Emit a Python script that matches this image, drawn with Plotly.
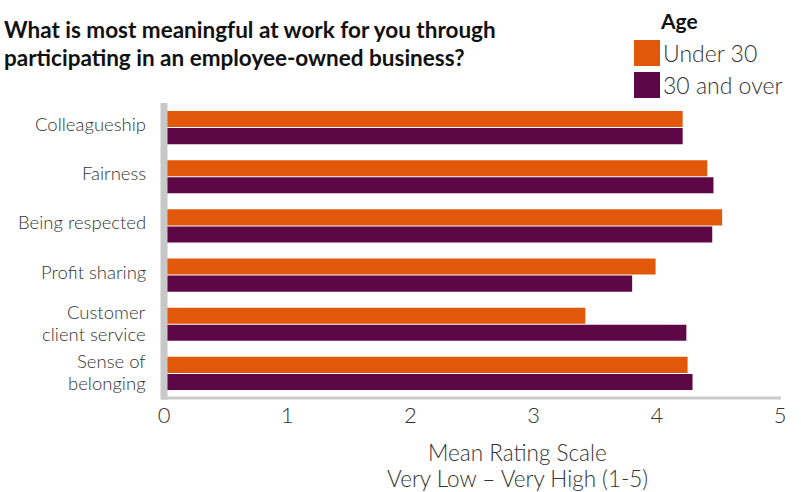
import plotly.graph_objects as go

categories = ["Colleagueship", "Fairness", "Being respected", "Profit sharing",
              "Customer<br>client service", "Sense of<br>belonging"]
under_30 = [4.21, 4.41, 4.53, 3.99, 3.42, 4.25]
over_30 = [4.21, 4.46, 4.45, 3.80, 4.24, 4.29]
series_names = ["Under 30", "30 and over"]
colors = ["#E1580B", "#5E0747"]
x_ticks = [0, 1, 2, 3, 4, 5]
title_lines = ["What is most meaningful at work for you through",
               "participating in an employee-owned business?"]
axis_title_lines = ["Mean Rating Scale", "Very Low \u2013 Very High (1-5)"]

BOLD = "Lato"
LIGHT = "Lato"
TXT = "#333333"
L, T, W, H = 164, 103, 616, 295


def px(x):
    return (x - L) / W


def py(y):
    return 1 - (y - T) / H


fig = go.Figure()
for name, vals, col in zip(series_names, [under_30, over_30], colors):
    fig.add_trace(go.Bar(y=categories, x=vals, orientation="h", name=name,
                         marker=dict(color=col, line=dict(width=0)),
                         showlegend=False))

fig.update_layout(
    width=801, height=492,
    margin=dict(l=L, r=801 - L - W, t=T, b=492 - T - H),
    paper_bgcolor="white", plot_bgcolor="white",
    barmode="group", bargap=0.305, bargroupgap=0.06,
    font=dict(family=LIGHT, color=TXT),
    xaxis=dict(range=[0, 5], tickvals=x_ticks, showgrid=False, zeroline=False,
               showline=False, ticks="", tickfont=dict(size=22, color=TXT, family=LIGHT, weight=300),
               ticklabelstandoff=2, fixedrange=True),
    yaxis=dict(categoryorder="array", categoryarray=categories, autorange="reversed",
               showgrid=False, zeroline=False, showline=False, ticks="",
               showticklabels=False),
)

# category labels, placed on the category axis
for cat in categories:
    parts = cat.split("<br>")
    n = len(parts)
    for j, part in enumerate(parts):
        shift = 3.5 if n == 1 else (12 if j == 0 else -10)
        fig.add_annotation(xref="paper", yref="y", x=px(147), y=cat, yshift=shift,
                           text=part, showarrow=False, xanchor="right", yanchor="middle",
                           borderpad=0,
                           font=dict(size=18.5, color=TXT, family=LIGHT, weight=300))

# axis lines (gray, thick left, thin bottom)
fig.add_shape(type="line", xref="paper", yref="paper", x0=0, x1=0, y0=-0.005, y1=1,
              line=dict(color="#C8C8C8", width=7), layer="above")
fig.add_shape(type="line", xref="paper", yref="paper", x0=px(161), x1=px(781), y0=py(398), y1=py(398),
              line=dict(color="#CACACA", width=3), layer="above")

# title
for i, line in enumerate(title_lines):
    fig.add_annotation(xref="paper", yref="paper", x=px(2), y=py(30 + 27 * i),
                       xanchor="left", yanchor="middle", text="<b>" + line + "</b>",
                       showarrow=False, font=dict(size=22.5, color="#111111", family=BOLD))

# legend
fig.add_annotation(xref="paper", yref="paper", x=px(679), y=py(20),
                   text="<b>Age</b>", showarrow=False, font=dict(size=21, color="#111111", family=BOLD),
                   xanchor="center", yanchor="middle")
for i, (name, col) in enumerate(zip(series_names, colors)):
    yc = 53 + 32 * i
    fig.add_shape(type="rect", xref="paper", yref="paper",
                  x0=px(634), x1=px(660), y0=py(yc + 13), y1=py(yc - 13),
                  fillcolor=col, line=dict(width=0))
    fig.add_annotation(xref="paper", yref="paper", x=px(661), y=py(yc),
                       text=name, showarrow=False, xanchor="left", yanchor="middle",
                       font=dict(size=23, color=TXT, family=LIGHT, weight=300))

# x-axis title
for i, line in enumerate(axis_title_lines):
    fig.add_annotation(xref="paper", yref="paper", x=px(517), y=py(452 + 26 * i),
                       text=line, showarrow=False, xanchor="center", yanchor="middle",
                       font=dict(size=22.5, color=TXT, family=LIGHT, weight=300))

fig.write_html("out.html")
